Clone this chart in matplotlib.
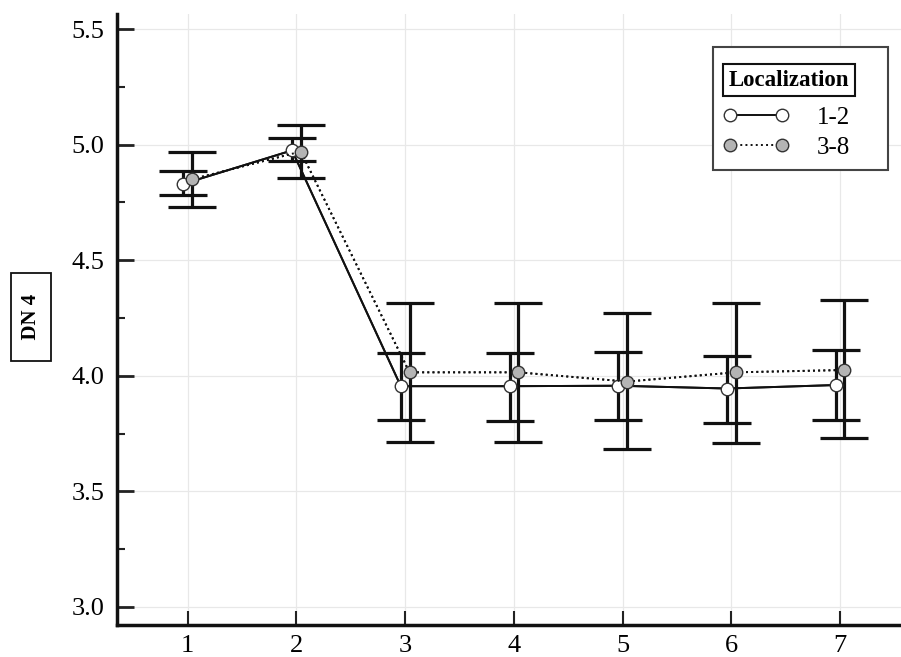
import matplotlib.pyplot as plt
import numpy as np
from matplotlib.patches import Rectangle

plt.rcParams['font.family'] = ['Liberation Serif', 'DejaVu Serif']

time_points = [1, 2, 3, 4, 5, 6, 7]
loc12_mean = [4.83, 4.975, 3.955, 3.955, 3.957, 3.945, 3.96]
loc12_upper = [4.885, 5.03, 4.10, 4.10, 4.105, 4.085, 4.11]
loc12_lower = [4.78, 4.93, 3.81, 3.805, 3.81, 3.795, 3.81]
loc38_mean = [4.85, 4.97, 4.015, 4.015, 3.975, 4.015, 4.025]
loc38_upper = [4.97, 5.085, 4.315, 4.315, 4.27, 4.315, 4.33]
loc38_lower = [4.73, 4.855, 3.715, 3.715, 3.685, 3.71, 3.73]

W, H = 901, 657
fig = plt.figure(figsize=(W / 100, H / 100), dpi=100)
ax = fig.add_axes([117 / W, 32 / H, 1 - 117 / W, (625 - 14) / H])

x = np.array(time_points, dtype=float)
series = [
    ("1-2", -0.04, loc12_mean, loc12_upper, loc12_lower, "white", "-"),
    ("3-8", 0.04, loc38_mean, loc38_upper, loc38_lower, "#b4b4b4", ":"),
]

handles = []
for label, dx, mean, up, lo, fc, ls in series:
    mean = np.array(mean)
    yerr = [mean - np.array(lo), np.array(up) - mean]
    ax.errorbar(x + dx, mean, yerr=yerr, fmt="none", ecolor="#111111",
                elinewidth=2.3, capsize=17.5, capthick=2.3, zorder=3)
    ax.plot(x + dx, mean, color="#111111", linestyle=ls, linewidth=1.4, zorder=4)
    h, = ax.plot(x + dx, mean, color="#111111", linestyle=ls, linewidth=1.4,
                 marker="o", markersize=9, markerfacecolor=fc,
                 markeredgecolor="#333333", markeredgewidth=1.0, zorder=5,
                 label=label)
    handles.append(h)

ax.set_xlim(0.35, 7.56)
ax.set_ylim(2.922, 5.565)
ax.set_xticks(time_points)
ax.set_yticks([3.0, 3.5, 4.0, 4.5, 5.0, 5.5])
ax.set_yticks(np.arange(3.25, 5.5, 0.5), minor=True)
ax.set_yticklabels(["3.0", "3.5", "4.0", "4.5", "5.0", "5.5"])

ax.grid(True, color="#e8e8e8", linewidth=0.9, zorder=0)
ax.set_axisbelow(True)

for s in ["top", "right"]:
    ax.spines[s].set_visible(False)
for s in ["left", "bottom"]:
    ax.spines[s].set_linewidth(2.5)
    ax.spines[s].set_color("#111111")

ax.tick_params(axis="y", which="major", direction="in", length=12, width=2,
               labelsize=19, pad=9, color="#222222")
ax.tick_params(axis="y", which="minor", direction="in", length=6, width=1.5,
               color="#222222")
ax.tick_params(axis="x", which="major", direction="in", length=10, width=1.5,
               labelsize=19, pad=7.5, color="#222222")

# legend: frame and boxed title drawn by hand, entries via legend()
fig.patches.append(Rectangle((713 / W, 1 - 170 / H), 175 / W, 123 / H,
                             transform=fig.transFigure, fc="white",
                             ec="#444444", lw=1.5, zorder=6))
fig.text(789 / W, 1 - 80 / H, "Localization", ha="center", va="center",
         fontsize=16.5, fontweight="bold", zorder=8,
         bbox=dict(boxstyle="square,pad=0.25", fc="white", ec="#111111", lw=1.5))
leg = fig.legend(handles=handles, loc="upper left",
                 bbox_to_anchor=(722 / W, 1 - 106 / H), numpoints=2,
                 handlelength=2.7, fontsize=18, frameon=False,
                 borderpad=0, labelspacing=0.3, handletextpad=1.1,
                 borderaxespad=0)
leg.set_zorder(9)

fig.text(31 / W, 1 - 317 / H, "  DN 4  ", rotation=90, ha="center", va="center",
         fontsize=15, fontweight="bold",
         bbox=dict(boxstyle="square,pad=0.5", fc="white", ec="#111111", lw=1.3))

fig.savefig("out.png", dpi=100)
